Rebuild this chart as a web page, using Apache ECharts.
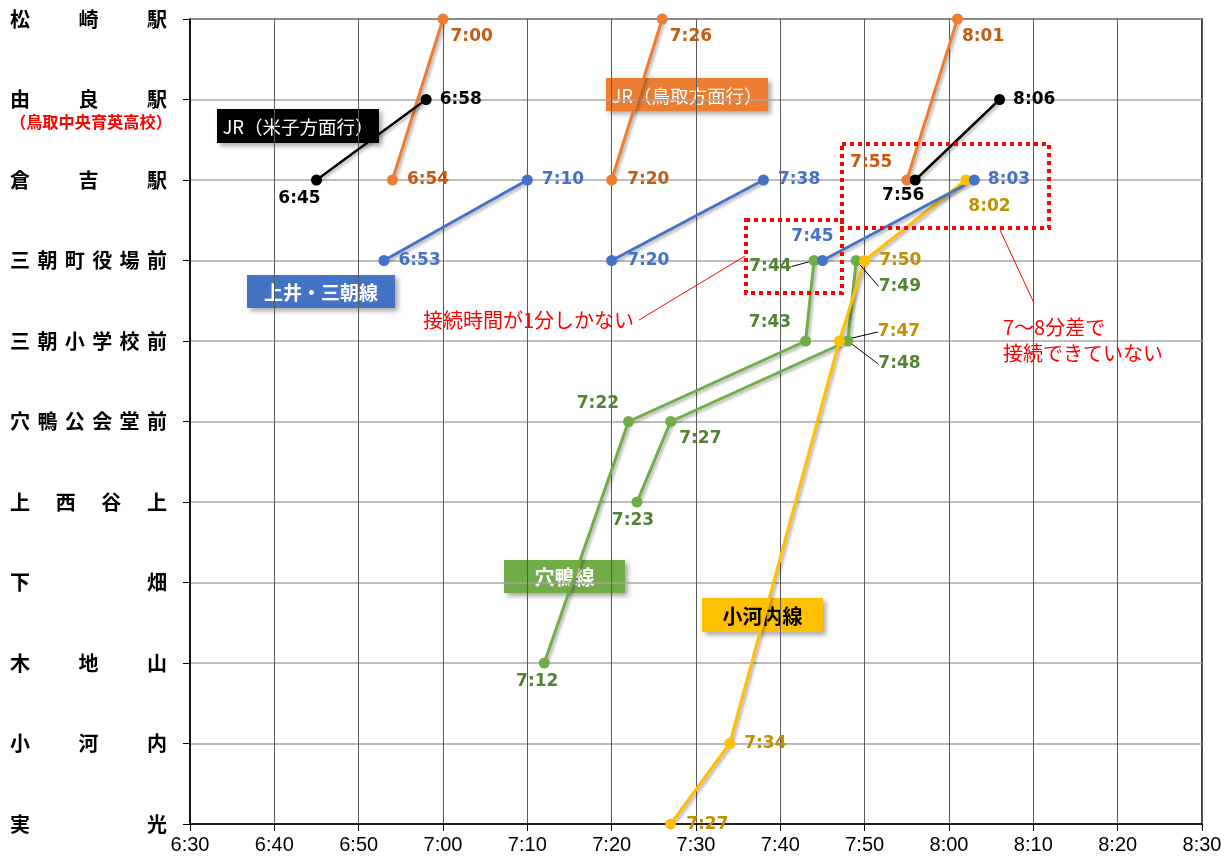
<!DOCTYPE html>
<html>
<head>
<meta charset="utf-8">
<script src="https://cdn.jsdelivr.net/npm/echarts@6/dist/echarts.min.js"></script>
<style>
html, body { margin: 0; padding: 0; background: #fff; }
#chart { width: 1232px; height: 861px; }
</style>
</head>
<body>
<div id="chart"></div>
<script>
// stations, top to bottom
const stations = ['松崎駅', '由良駅', '倉吉駅', '三朝町役場前', '三朝小学校前', '穴鴨公会堂前', '上西谷上', '下畑', '木地山', '小河内', '実光'];
const yuraNote = '（鳥取中央育英高校）';

// one array per train: [station, departure time]
const jrYonago1 = [['倉吉駅', '6:45'], ['由良駅', '6:58']];
const jrYonago2 = [['倉吉駅', '7:56'], ['由良駅', '8:06']];
const jrTottori1 = [['倉吉駅', '6:54'], ['松崎駅', '7:00']];
const jrTottori2 = [['倉吉駅', '7:20'], ['松崎駅', '7:26']];
const jrTottori3 = [['倉吉駅', '7:55'], ['松崎駅', '8:01']];
const ugai1 = [['三朝町役場前', '6:53'], ['倉吉駅', '7:10']];
const ugai2 = [['三朝町役場前', '7:20'], ['倉吉駅', '7:38']];
const ugai3 = [['三朝町役場前', '7:45'], ['倉吉駅', '8:03']];
const anamo1 = [['木地山', '7:12'], ['穴鴨公会堂前', '7:22'], ['三朝小学校前', '7:43'], ['三朝町役場前', '7:44']];
const anamo2 = [['上西谷上', '7:23'], ['穴鴨公会堂前', '7:27'], ['三朝小学校前', '7:48'], ['三朝町役場前', '7:49']];
const ogochi1 = [['実光', '7:27'], ['小河内', '7:34'], ['三朝小学校前', '7:47'], ['三朝町役場前', '7:50'], ['倉吉駅', '8:02']];

// label placement per point: [position, dx, dy, leader line]
const placeYonago1 = [['bottom', -17, 0], ['right', 3, 0]];
const placeYonago2 = [['bottom', -12, -3], ['right', 3, 0]];
const placeTottori1 = [['right', 4, 0], ['right', -3, 18]];
const placeTottori2 = [['right', 5, 0], ['right', -3, 18]];
const placeTottori3 = [['left', -4, -17], ['right', -6, 18]];
const placeUgai1 = [['right', 4, 0], ['right', 4, 0]];
const placeUgai2 = [['right', 5, 0], ['right', 4, 0]];
const placeUgai3 = [['top', -10, -5], ['right', 3, 0]];
const placeAnamo1 = [['bottom', -7, 0], ['left', 1, -18], ['left', -4, -18], ['left', -12, 6, true]];
const placeAnamo2 = [['bottom', -4, 0], ['right', -2, 17], ['right', 20, 23, true], ['right', 12, 26, true]];
const placeOgochi1 = [['right', 5, 1], ['right', 4, 0], ['right', 28, -9, true], ['right', 4, 0], ['right', -8, 27]];

function toMin(t) {
    const p = t.split(':');
    return Number(p[0]) * 60 + Number(p[1]);
}
function fmt(m) {
    return Math.floor(m / 60) + ':' + String(m % 60).padStart(2, '0');
}

const shadow = { shadowColor: 'rgba(0,0,0,0.3)', shadowBlur: 3, shadowOffsetX: 2, shadowOffsetY: 2 };

function train(rows, place, lineColor, labelColor, width) {
    return {
        type: 'line',
        clip: false,
        symbol: 'circle',
        symbolSize: 11,
        lineStyle: Object.assign({ color: lineColor, width: width || 3 }, shadow),
        itemStyle: { color: lineColor },
        label: {
            show: true,
            color: labelColor,
            fontFamily: 'DejaVu Sans',
            fontWeight: 'bold',
            fontSize: 17,
            formatter: p => fmt(p.value[0])
        },
        labelLayout: p => ({ dx: place[p.dataIndex][1], dy: place[p.dataIndex][2] }),
        emphasis: { disabled: true },
        data: rows.map((r, i) => ({
            value: [toMin(r[1]), r[0]],
            label: { position: place[i][0] },
            labelLine: { show: !!place[i][3], lineStyle: { color: '#000', width: 1 } }
        }))
    };
}

// y labels spread over a fixed width, like justified text
const spanW = 157, glyphW = 20;
const stationRich = {
    last: { fontSize: 20, fontWeight: 'bold', color: '#000', fontFamily: 'Noto Sans CJK JP', lineHeight: 22 },
    note: { fontSize: 16.2, fontWeight: 'bold', color: '#ff0000', fontFamily: 'Noto Sans CJK JP', lineHeight: 22 },
    gap: { fontSize: 15, lineHeight: 22 }
};
[2, 3, 4, 6].forEach(n => {
    stationRich['c' + n] = { width: (spanW - glyphW) / (n - 1), align: 'left', fontSize: 20, fontWeight: 'bold', color: '#000', fontFamily: 'Noto Sans CJK JP', lineHeight: 22 };
});
function stationLabel(name) {
    const chars = Array.from(name);
    let s = chars.map((c, i) => i < chars.length - 1 ? '{c' + chars.length + '|' + c + '}' : '{last|' + c + '}').join('');
    if (name === '由良駅') s = '{gap| }\n' + s + '\n{note|' + yuraNote + '}';
    return s;
}

function tag(x, y, w, h, text, bg, fg, weight, size) {
    return {
        type: 'group', x: x, y: y, z: 100,
        children: [
            { type: 'rect', shape: { x: 0, y: 0, width: w, height: h },
              style: { fill: bg, shadowBlur: 5, shadowOffsetX: 3, shadowOffsetY: 3, shadowColor: 'rgba(0,0,0,0.35)' } },
            { type: 'text', x: w / 2, y: h / 2 + 1,
              style: { text: text, fill: fg, font: weight + ' ' + size + 'px "Noto Sans CJK JP"', align: 'center', verticalAlign: 'middle' } }
        ]
    };
}

const chart = echarts.init(document.getElementById('chart'));
chart.setOption({
    animation: false,
    backgroundColor: '#fff',
    grid: { left: 190, right: 30, top: 19, bottom: 37, show: true, borderColor: '#000', borderWidth: 1.5 },
    xAxis: {
        type: 'value', min: 390, max: 510, interval: 10,
        axisLine: { show: true, lineStyle: { color: '#000', width: 1.5 } },
        axisTick: { show: true, length: 7, lineStyle: { color: '#000' } },
        axisLabel: { formatter: v => fmt(v), color: '#000', fontSize: 20, fontFamily: 'Liberation Sans', margin: 11 },
        splitLine: { show: true, lineStyle: { color: '#595959', width: 1 } }
    },
    yAxis: {
        type: 'category', data: stations, inverse: true, boundaryGap: false,
        axisLine: { show: true, lineStyle: { color: '#000', width: 1.5 } },
        axisTick: { show: true, length: 7, lineStyle: { color: '#000' } },
        splitLine: { show: true, lineStyle: { color: '#a6a6a6', width: 1.5 } },
        axisLabel: {
            interval: 0, align: 'left', margin: 180,
            formatter: stationLabel,
            rich: stationRich
        }
    },
    series: [
        train(anamo1, placeAnamo1, '#70AD47', '#548235'),
        train(anamo2, placeAnamo2, '#70AD47', '#548235'),
        train(ogochi1, placeOgochi1, '#FFC000', '#BF9000'),
        train(jrTottori1, placeTottori1, '#ED7D31', '#C55A11'),
        train(jrTottori2, placeTottori2, '#ED7D31', '#C55A11'),
        train(jrTottori3, placeTottori3, '#ED7D31', '#C55A11'),
        train(ugai1, placeUgai1, '#4472C4', '#4472C4'),
        train(ugai2, placeUgai2, '#4472C4', '#4472C4'),
        train(ugai3, placeUgai3, '#4472C4', '#4472C4'),
        train(jrYonago1, placeYonago1, '#000000', '#000000', 2.5),
        train(jrYonago2, placeYonago2, '#000000', '#000000', 2.5)
    ],
    graphic: [
        tag(217, 109, 162, 34, 'JR（米子方面行）', '#000000', '#ffffff', 'normal', 18.5),
        tag(606, 78, 162, 33, 'JR（鳥取方面行）', '#ED7D31', '#ffffff', 'normal', 18.5),
        tag(247, 275, 148, 33, '上井・三朝線', '#4472C4', '#ffffff', 'bold', 19),
        tag(504, 560, 121, 33, '穴鴨線', '#70AD47', '#ffffff', 'bold', 20),
        tag(702, 598, 121, 34, '小河内線', '#FFC000', '#000000', 'bold', 20),
        { type: 'rect', z: 90, shape: { x: 746, y: 220, width: 96, height: 73 },
          style: { fill: 'none', stroke: '#ff0000', lineWidth: 4, lineDash: [4, 4] } },
        { type: 'rect', z: 90, shape: { x: 842, y: 144, width: 207, height: 84 },
          style: { fill: 'none', stroke: '#ff0000', lineWidth: 4, lineDash: [4, 4] } },
        { type: 'line', z: 90, shape: { x1: 639, y1: 320, x2: 745, y2: 256 }, style: { stroke: '#ff0000', lineWidth: 1 } },
        { type: 'line', z: 90, shape: { x1: 1000, y1: 230, x2: 1034, y2: 303 }, style: { stroke: '#ff0000', lineWidth: 1 } },
        { type: 'text', z: 100, x: 423, y: 320,
          style: { text: '接続時間が1分しかない', fill: '#ff0000', font: '20px "Noto Sans CJK JP"', verticalAlign: 'middle' } },
        { type: 'text', z: 100, x: 1003, y: 340,
          style: { text: '7〜8分差で\n接続できていない', fill: '#ff0000', font: '20px "Noto Sans CJK JP"', lineHeight: 26, verticalAlign: 'middle' } }
    ]
});
</script>
</body>
</html>
